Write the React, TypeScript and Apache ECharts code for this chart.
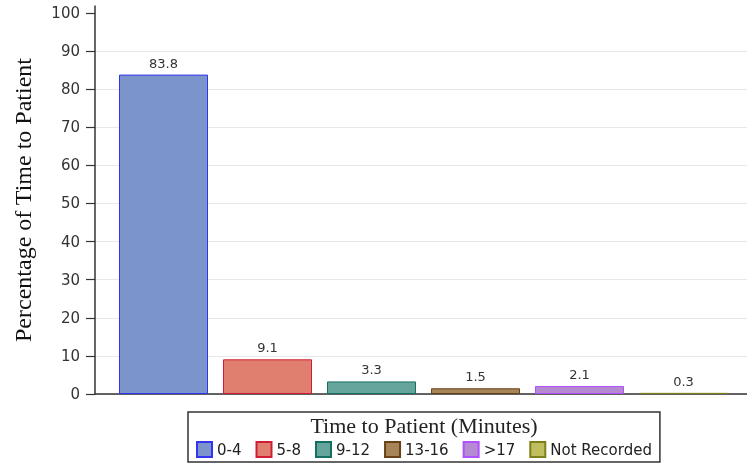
import { useEffect, useRef } from "react";
import * as echarts from "echarts";

const categories = ["0-4", "5-8", "9-12", "13-16", ">17", "Not Recorded"];
const values = [83.8, 9.1, 3.3, 1.5, 2.1, 0.3];
const fillColors = ["#7b95cc", "#e07f6f", "#66a59b", "#a88558", "#b58ad0", "#bfbf60"];
const borderColors = ["#3333f0", "#d01c34", "#16705f", "#6a4218", "#b050ff", "#80801a"];
const yTicks = [0, 10, 20, 30, 40, 50, 60, 70, 80, 90, 100];
const yTitle = "Percentage of Time to Patient";
const legendTitle = "Time to Patient (Minutes)";

export default function App() {
  const ref = useRef<HTMLDivElement>(null);
  useEffect(() => {
    const chart = echarts.init(ref.current!, null, { renderer: "svg" });
    chart.setOption({
      animation: false,
      grid: { left: 95, right: 0, top: 6, bottom: 69, containLabel: false },
      xAxis: {
        type: "value",
        min: -0.6587,
        max: 5.6106,
        axisLine: { show: true, onZero: false, lineStyle: { color: "#333", width: 1.5 } },
        axisTick: { show: false },
        axisLabel: { show: false },
        splitLine: { show: false },
      },
      yAxis: {
        type: "value",
        min: 0,
        max: 101.8,
        interval: 10,
        name: yTitle,
        nameLocation: "middle",
        nameGap: 60,
        nameTextStyle: { fontFamily: "Liberation Serif", fontSize: 24, color: "#111" },
        axisLine: { show: true, onZero: false, lineStyle: { color: "#333", width: 1.5 } },
        axisTick: { show: true, length: 9, customValues: yTicks, lineStyle: { color: "#333", width: 1.2 } },
        axisLabel: {
          customValues: yTicks,
          margin: 15,
          fontFamily: "DejaVu Sans",
          fontSize: 15,
          color: "#333",
        },
        splitLine: { show: true, showMaxLine: false, lineStyle: { color: "#e8e8e8", width: 1 } },
      },
      legend: {
        left: 188,
        top: 412,
        padding: [29, 8, 4, 8],
        itemGap: 14,
        itemWidth: 15,
        itemHeight: 15,
        icon: "rect",
        borderColor: "#333",
        borderWidth: 1.5,
        textStyle: { fontFamily: "DejaVu Sans", fontSize: 15, color: "#222" },
        data: categories,
      },
      graphic: [
        {
          type: "text",
          x: 424,
          y: 414,
          style: {
            text: legendTitle,
            textAlign: "center",
            fontFamily: "Liberation Serif",
            fontSize: 22,
            fill: "#222",
          },
        },
      ],
      series: categories.map((c, i) => ({
        type: "bar",
        name: c,
        data: [[i, values[i]]],
        barWidth: 89,
        barGap: "-100%",
        itemStyle: { color: fillColors[i], borderColor: borderColors[i], borderWidth: 1 },
        label: {
          show: true,
          position: "top",
          distance: 5,
          fontFamily: "DejaVu Sans",
          fontSize: 13,
          color: "#333",
          formatter: () => values[i].toFixed(1),
        },
      })),
    });
    return () => chart.dispose();
  }, []);
  return <div ref={ref} style={{ position: "fixed", left: 0, top: 0, width: 747, height: 463 }} />;
}
